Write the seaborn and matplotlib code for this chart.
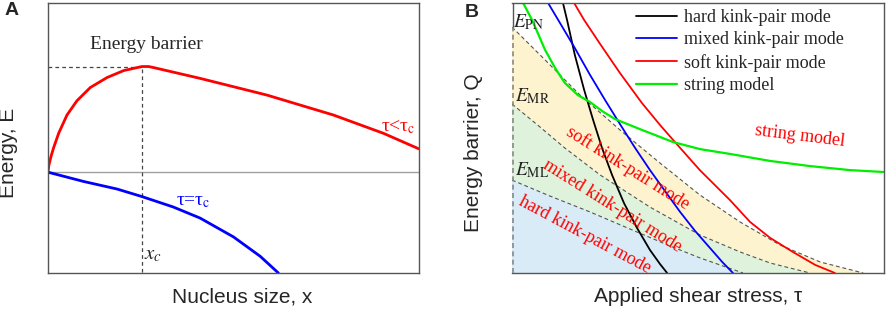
import numpy as np
import pandas as pd
import seaborn as sns
import matplotlib.pyplot as plt

# ---- Panel A data (x: nucleus size, y: energy)
a_red_x = [0, 0.27, 0.81, 1.53, 2.87, 5.12, 7.81, 11.4, 15.9, 20.4, 25.3, 27.1, 28.5, 41.0, 59.0, 76.9, 90.4, 100]
a_red_y = [0, 2.5, 5.6, 8.9, 14.2, 21.0, 26.3, 31.2, 34.9, 37.5, 39.0, 39.0, 38.6, 34.6, 28.4, 21.0, 14.2, 8.4]
a_blue_x = [0, 9.6, 18.6, 25.3, 33.8, 41.0, 50.0, 57.2, 62.1]
a_blue_y = [-0.25, -3.7, -6.5, -9.3, -13.2, -17.3, -24.3, -31.5, -37.7]
x_c = 25.3
e_barrier = 39.0

# ---- Panel B data (x: applied shear stress, y: energy barrier)
e_pn_x = [0, 8.9, 18.3, 29.0, 39.8, 50.5, 61.3, 72.0, 82.8, 94.4]
e_pn_y = [91.1, 78.9, 65.9, 53.0, 40.7, 28.9, 18.9, 10.4, 4.1, 0]
e_mr_x = [0, 7.5, 14.2, 23.7, 37.1, 50.5, 61.3, 69.4, 80.1]
e_mr_y = [62.6, 54.1, 46.3, 36.3, 24.4, 14.1, 7.8, 3.7, 0]
e_ml_x = [0, 10.2, 21.0, 31.7, 42.5, 50.5, 62.1]
e_ml_y = [34.4, 28.5, 22.6, 16.3, 10.0, 5.6, 0]

hard_x = [13.7, 14.8, 16.9, 19.4, 21.8, 24.2, 26.9, 30.1, 33.6, 37.1, 39.8, 41.7]
hard_y = [100, 93.7, 80.7, 67.8, 56.7, 46.3, 36.3, 25.9, 16.7, 8.5, 3.3, 0]
mixed_x = [9.7, 12.9, 16.9, 21.0, 25.0, 29.0, 33.1, 37.1, 41.1, 45.2, 49.2, 53.2, 56.5, 59.4]
mixed_y = [100, 92.6, 83.3, 73.3, 64.1, 55.2, 46.3, 38.1, 30.4, 22.6, 15.6, 9.3, 4.1, 0]
soft_x = [16.7, 19.4, 23.7, 29.0, 34.9, 39.8, 43.8, 50.5, 58.6, 64.0, 69.4, 75.5, 81.5, 86.8]
soft_y = [100, 93.7, 84.8, 74.1, 63.0, 54.8, 48.5, 38.1, 27.0, 18.9, 13.0, 7.8, 3.0, 0]
string_x = [3.0, 5.4, 8.9, 11.6, 14.2, 17.7, 21.0, 24.2, 27.7, 34.9, 43.3, 50.5, 58.6, 69.4, 80.1, 90.9, 100]
string_y = [100, 93.7, 82.6, 75.9, 70.4, 65.9, 63.3, 60.0, 57.0, 53.0, 48.5, 45.9, 44.1, 41.5, 39.6, 38.1, 37.4]

mode_names = ["hard kink-pair mode", "mixed kink-pair mode", "soft kink-pair mode", "string model"]

sns.set_theme(style="white")
plt.rcParams['font.family'] = ['Liberation Serif', 'DejaVu Serif']
plt.rcParams['mathtext.fontset'] = 'stix'

SERIF = 13
SANS = ['Liberation Sans', 'DejaVu Sans']
LABEL = 15

fig = plt.figure(figsize=(8.86, 3.10), dpi=100)
axA = fig.add_axes([48 / 886, 37 / 310, 371 / 886, 270 / 310])
axB = fig.add_axes([512 / 886, 37 / 310, 372 / 886, 270 / 310])

# ---------------- Panel A ----------------
axA.axhline(0, color='#a0a0a0', lw=1.0, zorder=1)
axA.plot([0, x_c], [e_barrier, e_barrier], ls=(0, (3, 2.5)), color='#444444', lw=0.9)
axA.plot([x_c, x_c], [-40, e_barrier], ls=(0, (3, 2.5)), color='#444444', lw=0.9)
sns.lineplot(x=a_red_x, y=a_red_y, sort=False, estimator=None, color='#ff0000', lw=2.0, ax=axA)
sns.lineplot(x=a_blue_x, y=a_blue_y, sort=False, estimator=None, color='#0000ff', lw=2.0, ax=axA)
axA.set_xlim(0, 100)
axA.set_ylim(-37.7, 62.6)
axA.text(11.4, 47.2, "Energy barrier", fontsize=14, va='center', ha='left')
axA.text(99, 16.5, r"τ<τ$_{\mathrm{c}}$", fontsize=14, color='#ff0000', va='center', ha='right')
axA.text(34.5, -11.1, r"τ=τ$_{\mathrm{c}}$", fontsize=14, color='#0000ff', va='center', ha='left')
axA.text(26.0, -31.0, r"$x_c$", fontsize=15, va='center', ha='left')
axA.set_xlabel("Nucleus size, x", family=SANS, fontsize=LABEL)
axA.set_ylabel("Energy, E", family=SANS, fontsize=LABEL)
axA.xaxis.set_label_coords(0.523, -0.052)
axA.yaxis.set_label_coords(-0.082, 0.444)

# ---------------- Panel B ----------------
axB.fill(e_ml_x + [0], e_ml_y + [0], color='#d8ebf7', lw=0)
axB.fill(e_mr_x + e_ml_x[::-1], e_mr_y + e_ml_y[::-1], color='#dff2dc', lw=0)
axB.fill(e_pn_x + e_mr_x[::-1], e_pn_y + e_mr_y[::-1], color='#fdf3cf', lw=0)
for bx, by in [(e_pn_x, e_pn_y), (e_mr_x, e_mr_y), (e_ml_x, e_ml_y)]:
    axB.plot(bx, by, ls=(0, (3.5, 2.5)), color='#555555', lw=0.8)
axB.plot([0.15, 0.15], [0, e_pn_y[0]], ls=(0, (3, 2)), color='#888888', lw=1.2, zorder=5)

sns.lineplot(x=hard_x, y=hard_y, sort=False, estimator=None, color='black', lw=1.3, ax=axB, label=mode_names[0])
sns.lineplot(x=mixed_x, y=mixed_y, sort=False, estimator=None, color='#0000ff', lw=1.3, ax=axB, label=mode_names[1])
sns.lineplot(x=soft_x, y=soft_y, sort=False, estimator=None, color='#ff0000', lw=1.3, ax=axB, label=mode_names[2])
sns.lineplot(x=string_x, y=string_y, sort=False, estimator=None, color='#00ee00', lw=1.6, ax=axB, label=mode_names[3])
axB.set_xlim(0, 100)
axB.set_ylim(0, 100)

axB.text(0.3, 93, r"$E_{\mathrm{PN}}$", fontsize=14, va='center', ha='left', color='#222222')
axB.text(0.8, 65.5, r"$E_{\mathrm{MR}}$", fontsize=14, va='center', ha='left', color='#222222')
axB.text(0.8, 38.0, r"$E_{\mathrm{ML}}$", fontsize=14, va='center', ha='left', color='#222222')
axB.text(31.2, 38.9, "soft kink-pair mode", fontsize=SERIF, color='#ff0000', rotation=-32,
         ha='center', va='center', rotation_mode='anchor')
axB.text(26.9, 24.8, "mixed kink-pair mode", fontsize=SERIF, color='#ff0000', rotation=-32,
         ha='center', va='center', rotation_mode='anchor')
axB.text(19.6, 14.1, "hard kink-pair mode", fontsize=SERIF, color='#ff0000', rotation=-28,
         ha='center', va='center', rotation_mode='anchor')
axB.text(77.4, 50.7, "string model", fontsize=SERIF, color='#ff0000', rotation=-7,
         ha='center', va='center', rotation_mode='anchor')

axB.legend(loc='upper left', bbox_to_anchor=(0.333, 0.978), frameon=False, fontsize=SERIF,
           handlelength=2.3, handletextpad=0.35, labelspacing=0.3, borderpad=0, borderaxespad=0)
axB.set_xlabel("Applied shear stress, τ", family=SANS, fontsize=LABEL)
axB.set_ylabel("Energy barrier, Q", family=SANS, fontsize=LABEL)
axB.xaxis.set_label_coords(0.50, -0.052)
axB.yaxis.set_label_coords(-0.078, 0.444)

for ax in (axA, axB):
    ax.set_xticks([])
    ax.set_yticks([])
    for s in ax.spines.values():
        s.set_color('#555555')
        s.set_linewidth(1.0)
axB.spines['left'].set_visible(False)
axB.plot([0.15, 0.15], [e_pn_y[0], 100], color='#555555', lw=1.0)

fig.text(5 / 886, 1 - 2 / 310, "A", family=SANS, fontsize=14, weight='bold', va='top', ha='left')
fig.text(465 / 886, 1 - 4 / 310, "B", family=SANS, fontsize=14, weight='bold', va='top', ha='left')

fig.savefig("out.png", dpi=100)
